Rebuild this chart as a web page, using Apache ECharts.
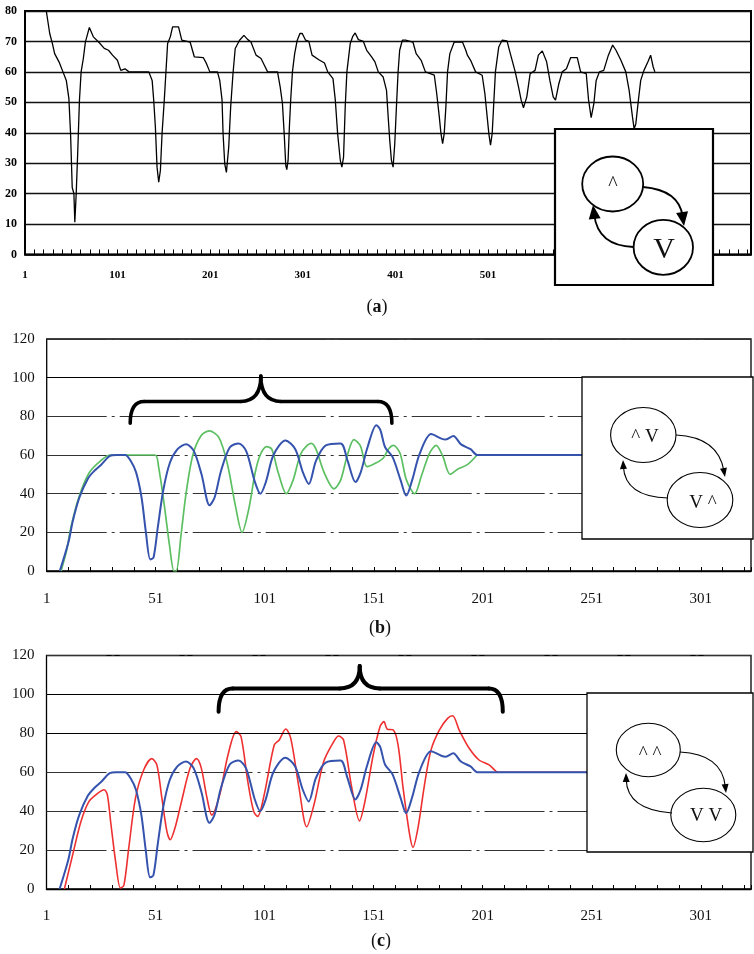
<!DOCTYPE html>
<html><head><meta charset="utf-8">
<script src="https://cdn.jsdelivr.net/npm/echarts/dist/echarts.min.js"></script>
<style>html,body{margin:0;padding:0;background:#fff}#c{width:754px;height:954px}</style>
</head><body><div id="c"></div><script>
// ---- data (x = step offset, label shown as step+1) ----
const panelA = [[23,80],[26.7,72.6],[29.6,69.3],[32,66],[36.7,63.3],[41,60],[44.6,57.2],[47.4,51.2],[49.2,39.7],[51,22],[52.8,20],[53.8,10.6],[55.3,20],[57,34.2],[58.8,50.7],[60.6,60],[63,64.4],[65.2,69.8],[69.5,74.6],[73.8,71.5],[79.5,69.8],[85.6,67.7],[90.2,67.1],[94.5,65.5],[99.8,63.8],[103.4,60.5],[108,61],[112.3,60],[133.7,60],[137.3,57.2],[139,50.7],[140.8,41.9],[142.6,28.7],[144.4,23.8],[146.2,27.6],[148,39.7],[150.4,50.7],[152.2,60],[154,69.3],[156.9,71.5],[159.4,74.8],[165.8,74.8],[169.3,70.4],[178.3,69.8],[182.9,64.9],[192.5,64.7],[196,62.7],[199.6,60],[207.8,60],[210.3,57.2],[212.8,50.7],[213.9,39.7],[215.7,29.8],[217.5,27],[220,35.3],[222.1,48.5],[224.6,59.4],[227,67.7],[231.7,70.4],[236.4,72],[240.6,70.6],[244,69.8],[249.5,65.5],[254.9,64.4],[258.5,62.2],[262,60],[272.7,60],[275.6,55],[278,49.6],[279.9,39.7],[281.6,29.3],[282.7,27.9],[284.1,30.9],[285.5,41.9],[286.9,50.7],[288.8,60],[291.2,66],[294,70.4],[296.9,72.6],[299.4,72.6],[303,70.4],[306.5,70],[310,65.5],[317.3,64],[323.4,62.9],[326.9,60],[332.6,57.8],[335.1,50.7],[337.6,39.7],[340.5,30.9],[342.2,28.7],[344,32],[345.8,48.5],[347.6,60],[351.2,69.3],[354,71.7],[356.5,72.8],[360,70.6],[365.4,70],[369,67.1],[374.3,64.9],[377.9,63.3],[381.5,60],[386.8,58.3],[390.4,53.9],[392.2,45.2],[393.9,37.5],[395.7,30.9],[397.5,28.7],[399.3,36.4],[401.1,48.5],[402.9,60],[404.6,67.1],[407.5,70.4],[411,70.4],[418.9,69.8],[422.4,66],[427.8,63.8],[432.4,60],[442,58.9],[444.6,52.9],[447.4,45.2],[449.2,39.7],[451,36.4],[452.7,39.7],[454.5,48.5],[456.3,60],[458.8,66],[463.5,69.8],[472.4,69.8],[476,67.1],[477.7,65.5],[481.2,63.8],[486.6,60],[493.7,58.9],[496.6,52.9],[499.1,45.2],[500.9,39.7],[502.7,35.9],[504.5,39.7],[506.2,49.6],[508,60],[511.6,68.2],[515.2,70.4],[520.5,70.2],[524.1,66],[529.4,60],[533,55],[535.8,50.7],[538.3,48.2],[541.9,51.8],[545.5,59.4],[550.8,60.5],[554.4,65.5],[558.6,66.9],[563.3,63.3],[566.8,57.2],[570.4,51.8],[572.9,50.7],[576.5,56.1],[580.1,60],[584.7,61],[589.3,64.7],[596.4,64.7],[600,60],[606.1,59.4],[608.6,50.7],[611.4,45],[614.3,49.6],[616.8,57.2],[620.3,60],[625,60.5],[630,65.5],[634.6,68.8],[638.2,67.1],[643.5,63.8],[648.8,60],[652.4,53.9],[656,45.2],[657.8,41.3],[659.6,42.9],[662.4,50.7],[664.9,57.2],[668.4,60.5],[672.7,63.3],[675.6,65.5],[678.4,61.6],[680.2,60]];

const blueSeries = [[6,0],[10,15],[12,26],[15,38],[19,48],[22,52],[25,55],[29,59.5],[32,60],[36,60],[38.5,57],[41,51],[43.5,38],[45.5,20],[47.5,6],[49,7],[51,23],[53.5,42],[56.5,56],[60,63],[64,65.5],[67.5,62],[71,50],[74.7,34],[77,38],[80,52],[84,64],[88,66],[91.5,62],[95.5,46],[98,40],[100.5,46],[104,60],[109.5,67.5],[114,63],[117.5,51],[120.2,45],[123.5,57],[128,65],[134.8,66],[138,57],[141.6,46],[144,51],[147,63.5],[151.2,75.4],[153,73],[155.2,64],[158.6,59],[162.3,47],[164.9,39],[167.6,47],[171,60.5],[176.3,70.8],[181,68.5],[183,68],[186.5,69.8],[190,65.5],[194.4,63],[197.5,60],[323,60]];

const greenSeries = [[6.6,0],[9,10],[11.2,23],[14.9,38.6],[19.5,50.8],[24.7,57],[29.3,60],[49.6,60],[51.3,54],[54,33.4],[56.4,12.6],[58.4,0],[59.4,0],[61.7,19.6],[63.9,40],[66.9,59.5],[70.7,69.8],[74.5,72.5],[79,69],[82.8,55.7],[86.6,33.4],[89.6,20],[92.6,31.7],[95.6,50.8],[97.9,60],[100.9,64.3],[103.2,63],[106.2,50.8],[109.9,40],[113,47],[116.7,61],[121.3,66],[123.5,63],[127.3,50.8],[131.8,42.5],[134.8,47],[137.9,60],[140.9,68],[143.9,64.6],[146.9,54],[150.7,55.7],[154.5,58.6],[156.7,63],[159,65],[162,61],[165,47],[168.8,40],[171.8,49],[175.6,61],[178.6,65],[181.6,59.5],[185,50],[188.3,52.5],[192.9,55],[197.4,60]];

const redSeries = [[8.2,0],[12,17.6],[15.8,34.7],[19.5,45],[23.3,49],[26.4,51],[27.9,48.4],[29.4,34.7],[31.7,14],[33.9,0.5],[35.5,2],[37.7,21],[40.8,46.7],[44.5,61],[48.3,67],[50.6,63.8],[52.9,46.7],[55.2,29.6],[56.7,25.3],[58.9,31.3],[61.9,45],[65.8,62],[68.8,67],[71,62],[73.3,48.4],[75.8,38],[79.4,48.4],[83.2,68.9],[87,80.9],[89.2,78.3],[92.3,55.2],[95,39.8],[96.8,37.3],[99.8,48.4],[104.4,74],[106.7,76.6],[109.7,82.2],[112,77.4],[115.8,51.8],[119.3,32],[122.6,43.2],[127.1,65.5],[131.7,75.7],[133.9,78.6],[136.2,76.6],[140,51.8],[143.5,35],[146,45],[149.8,68.9],[152.9,83.4],[154.7,86],[156.2,82.2],[159,81.7],[161.2,74],[163.5,51.8],[166.5,27.9],[168,21.4],[170.3,31.3],[173.3,53.5],[176.3,71.5],[180.1,81.7],[183.9,87.7],[186.2,89],[189.2,81.7],[193.8,72.3],[198.3,66.3],[202.9,63.8],[205.9,60.7],[207,60],[323,60]];

const xLabelsA = [1,101,201,301,401,501];
const xLabelsBC = [1,51,101,151,201,251,301];
const insetA = ['^','V'];
const insetB = ['^ V','V ^'];
const insetC = ['^ ^','V V'];
const panelTags = ['a','b','c'];

// ---- chart ----
const chart = echarts.init(document.getElementById('c'), null, {renderer:'canvas'});
const serif = '"Liberation Serif","Times New Roman",serif';
function xAxisBC(idx){
  return {type:'value', gridIndex:idx, min:0, max:323, interval:10,
    axisLine:{show:true, lineStyle:{color:'#000', width:1.3}},
    axisTick:{show:true, inside:true, length:4, lineStyle:{color:'#000', width:1}},
    splitLine:{show:false},
    axisLabel:{margin: idx===1?21:20, fontFamily:serif, fontSize:15, color:'#111', showMinLabel:true,
      formatter:v=> xLabelsBC.includes(Math.round(v)+1) ? String(Math.round(v)+1) : ''}};
}
function yAxisBC(idx){
  return {type:'value', gridIndex:idx, min:0, max:120, interval:20,
    axisLine:{show:false}, axisTick:{show:false},
    splitLine:{show:true, lineStyle:{color:'#333', width:1, type:[60,5,3,5]}},
    axisLabel:{margin:12, fontFamily:serif, fontSize:15, color:'#111'}};
}
const option = {
  animation:false,
  backgroundColor:'#fff',
  grid:[
    {left:25, top:11, right:-4, height:243.5, show:true, borderColor:'#000', borderWidth:2, backgroundColor:'transparent'},
    {left:46.7, top:339, right:-4, height:232, show:true, borderColor:'#000', borderWidth:1.3, backgroundColor:'transparent'},
    {left:46.5, top:655.5, right:-4, height:233.5, show:true, borderColor:'#000', borderWidth:1.3, backgroundColor:'transparent'}
  ],
  xAxis:[
    {type:'value', gridIndex:0, min:0, max:784, interval:10,
      axisLine:{show:true, lineStyle:{color:'#000', width:1.5}},
      axisTick:{show:true, inside:true, length:5, lineStyle:{color:'#000', width:1}},
      splitLine:{show:false},
      axisLabel:{margin:15, fontFamily:serif, fontWeight:'bold', fontSize:11, color:'#000', showMinLabel:true,
        formatter:v=> xLabelsA.includes(Math.round(v)+1) ? String(Math.round(v)+1) : ''}},
    xAxisBC(1), xAxisBC(2)
  ],
  yAxis:[
    {type:'value', gridIndex:0, min:0, max:80, interval:10,
      axisLine:{show:true, lineStyle:{color:'#000', width:1.5}}, axisTick:{show:false},
      splitLine:{show:true, lineStyle:{color:'#111', width:1.3}},
      axisLabel:{margin:8, fontFamily:serif, fontWeight:'bold', fontSize:12, color:'#000'}},
    yAxisBC(1), yAxisBC(2)
  ],
  series:[
    {type:'line', xAxisIndex:0, yAxisIndex:0, data:panelA, symbol:'none', lineStyle:{color:'#000', width:1.3}, z:3},
    {type:'line', xAxisIndex:1, yAxisIndex:1, data:greenSeries, symbol:'none', smooth:0.3, lineStyle:{color:'#5cbf62', width:1.7}, z:3},
    {type:'line', xAxisIndex:1, yAxisIndex:1, data:blueSeries, symbol:'none', smooth:0.3, lineStyle:{color:'#3553ad', width:2}, z:4,
      markLine:{silent:true, symbol:'none', label:{show:false}, lineStyle:{color:'#000', width:1.2, type:'solid'}, data:[{yAxis:100}]}},
    {type:'line', xAxisIndex:2, yAxisIndex:2, data:redSeries, symbol:'none', smooth:0.3, lineStyle:{color:'#ee3030', width:1.6}, z:3},
    {type:'line', xAxisIndex:2, yAxisIndex:2, data:blueSeries, symbol:'none', smooth:0.3, lineStyle:{color:'#3553ad', width:2}, z:4,
      markLine:{silent:true, symbol:'none', label:{show:false}, lineStyle:{color:'#000', width:1.2, type:'solid'}, data:[{yAxis:100},{yAxis:80}]}}
  ]
};
chart.setOption(option);

// ---- annotations ----
const g = [];
function arrowHead(tx, ty, fx, fy, len, w){
  const dx = tx-fx, dy = ty-fy, d = Math.hypot(dx,dy), ux = dx/d, uy = dy/d;
  const bx = tx-ux*len, by = ty-uy*len, px = -uy, py = ux;
  return [[tx,ty],[bx+px*w/2, by+py*w/2],[bx-px*w/2, by-py*w/2]];
}
function addArrow(p0, cp, p2, lw, len, w){
  const d = Math.hypot(p2[0]-cp[0], p2[1]-cp[1]);
  const ux = (p2[0]-cp[0])/d, uy = (p2[1]-cp[1])/d;
  const endX = p2[0]-ux*len*0.7, endY = p2[1]-uy*len*0.7;
  g.push({type:'bezierCurve', z:102, shape:{x1:p0[0], y1:p0[1], cpx1:cp[0], cpy1:cp[1], x2:endX, y2:endY},
    style:{stroke:'#000', fill:null, lineWidth:lw}});
  g.push({type:'polygon', z:103, shape:{points:arrowHead(p2[0],p2[1],cp[0],cp[1],len,w)}, style:{fill:'#000'}});
}
function addText(txt, x, y, fs){
  g.push({type:'text', z:103, x:x, y:y, style:{text:txt, font:fs+'px '+serif, fill:'#111',
    align:'center', verticalAlign:'middle', textAlign:'center', textVerticalAlign:'middle'}});
}
function addEllipse(cx, cy, rx, ry, lw){
  g.push({type:'ellipse', z:102, shape:{cx:cx, cy:cy, rx:rx, ry:ry}, style:{fill:'#fff', stroke:'#000', lineWidth:lw}});
}
// inset (a)
g.push({type:'rect', z:101, shape:{x:555, y:129, width:158, height:156}, style:{fill:'#fff', stroke:'#000', lineWidth:2.2}});
addEllipse(612.7, 184, 30.5, 27.5, 1.8);
addEllipse(663.3, 247.3, 29.7, 27.5, 1.8);
addText(insetA[0], 613, 185, 20);
addText(insetA[1], 664, 250, 30);
addArrow([643,187],[679,190],[684,226],1.8,14,12);
addArrow([633.5,247],[598,246],[593,205],1.8,14,12);
// inset (b)
g.push({type:'rect', z:101, shape:{x:582, y:377, width:171, height:162}, style:{fill:'#fff', stroke:'#000', lineWidth:1.3}});
addEllipse(643.3, 435, 32.7, 27.5, 1.1);
addEllipse(700, 500, 32.8, 27.5, 1.1);
addText(insetB[0], 645, 437, 19);
addText(insetB[1], 703, 503, 19);
addArrow([676,435],[718,437],[725,477],1.1,9,7);
addArrow([668,498],[625,497],[623,460],1.1,9,7);
// inset (c)
g.push({type:'rect', z:101, shape:{x:587, y:693, width:166, height:159}, style:{fill:'#fff', stroke:'#000', lineWidth:1.3}});
addEllipse(648.3, 750, 32, 26.7, 1.1);
addEllipse(703.3, 815, 32.5, 26.7, 1.1);
addText(insetC[0], 650, 754, 19);
addText(insetC[1], 706, 816, 19);
addArrow([680,752],[722,754],[726,793],1.1,9,7);
addArrow([672,813],[627,810],[626,773],1.1,9,7);

// braces (defined in data coordinates of each panel), drawn as curves + lines
function brace(gi, xL, xM, xR, yEnd, yH, yPeak, lw){
  const P = (x,y)=>chart.convertToPixel({gridIndex:gi},[x,y]);
  const L = P(xL,yEnd), H = P(xL,yH), M = P(xM,yH), K = P(xM,yPeak), R = P(xR,yEnd);
  const yh = H[1], r = 14, r2 = 20;
  const st = {stroke:'#000', fill:null, lineWidth:lw, lineCap:'round'};
  const q = (a,c,b)=>g.push({type:'bezierCurve', z:50, shape:{x1:a[0],y1:a[1],cpx1:c[0],cpy1:c[1],x2:b[0],y2:b[1]}, style:st});
  const ln = (a,b)=>g.push({type:'line', z:50, shape:{x1:a[0],y1:a[1],x2:b[0],y2:b[1]}, style:st});
  q([L[0],L[1]],[L[0],yh],[L[0]+r,yh]);
  ln([L[0]+r,yh],[M[0]-r2,yh]);
  q([M[0]-r2,yh],[M[0],yh],[K[0],K[1]]);
  q([K[0],K[1]],[M[0],yh],[M[0]+r2,yh]);
  ln([M[0]+r2,yh],[R[0]-r,yh]);
  q([R[0]-r,yh],[R[0],yh],[R[0],R[1]]);
}
brace(1, 38.3, 98.2, 158.3, 76.4, 87.7, 100.8, 3.6);
brace(2, 78.9, 143.6, 209.2, 91.1, 103.1, 114.6, 4);

// panel tags
const tagPos = [[377,307],[380,628],[381,941]];
panelTags.forEach((t,i)=>{
  g.push({type:'text', z:103, x:tagPos[i][0], y:tagPos[i][1], style:{text:'{n|(}{b|'+t+'}{n|)}',
    align:'center', verticalAlign:'middle', textAlign:'center', textVerticalAlign:'middle',
    rich:{n:{font:'18px '+serif, fill:'#111'}, b:{font:'bold 18px '+serif, fill:'#111'}}}});
});
chart.setOption({graphic:{elements:g}});
</script></body></html>
